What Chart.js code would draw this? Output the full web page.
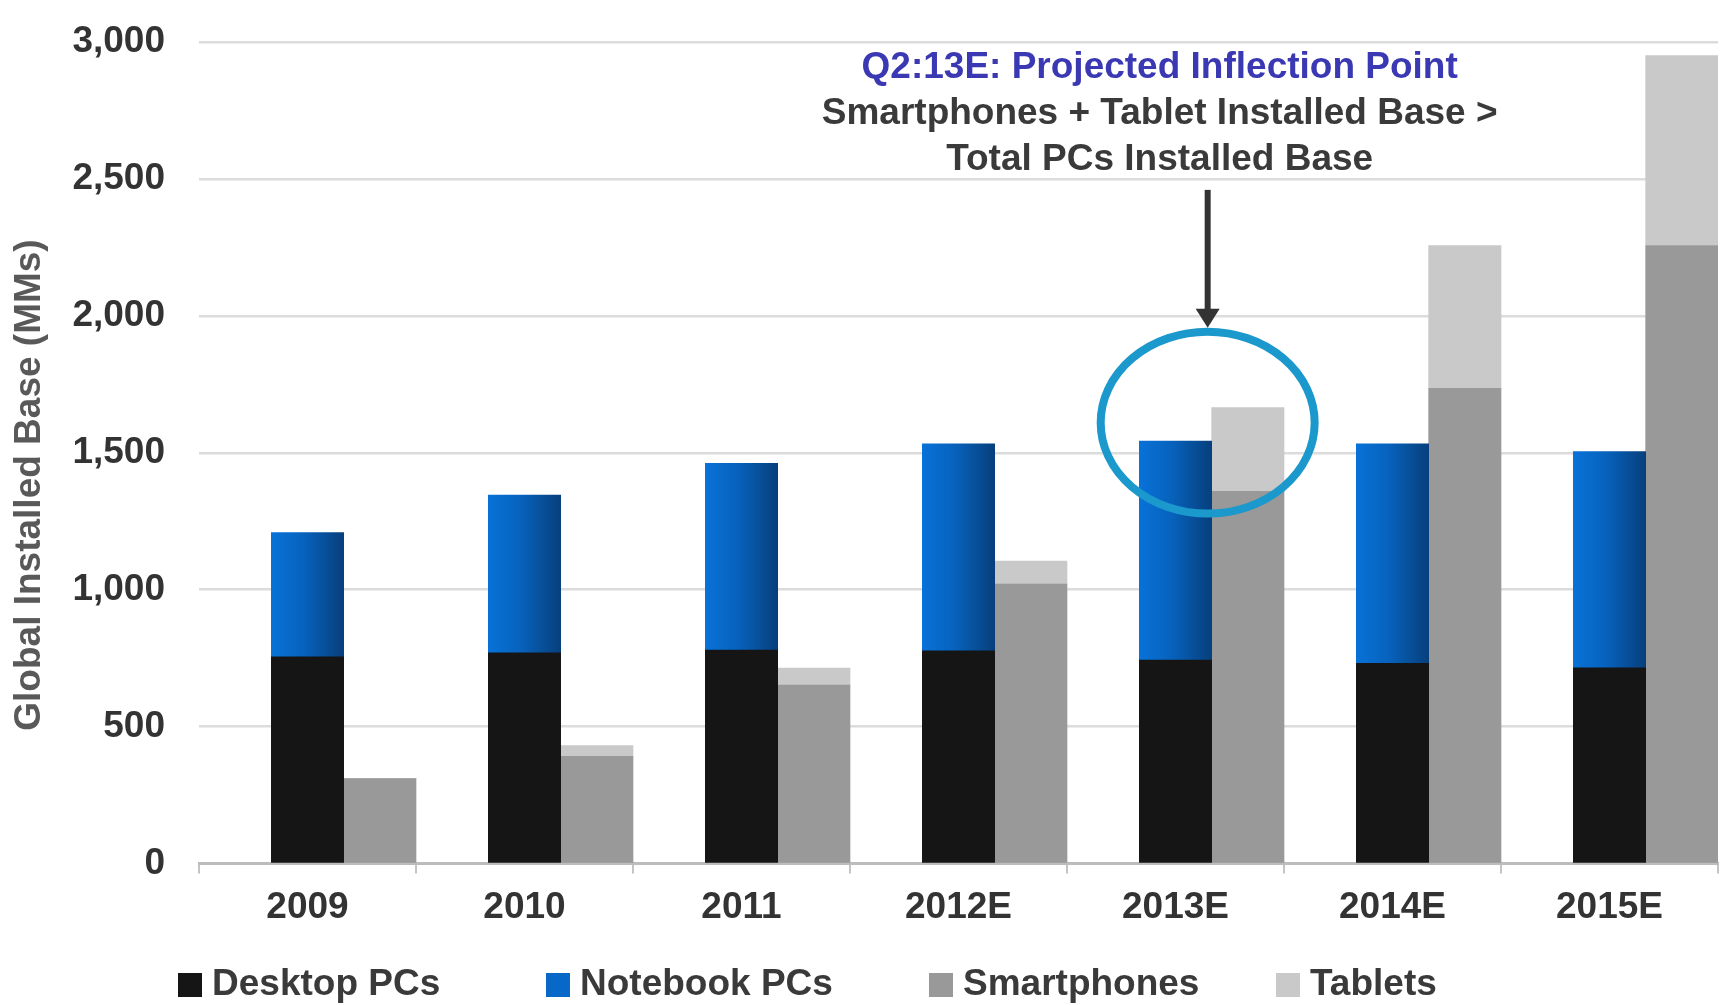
<!DOCTYPE html>
<html>
<head>
<meta charset="utf-8">
<title>Global Installed Base</title>
<script src="https://cdn.jsdelivr.net/npm/chart.js@4.4.0/dist/chart.umd.min.js"></script>
<style>
	html, body { margin: 0; padding: 0; background: #fff; }
	#chart-wrap { width: 1730px; height: 1005px; }
</style>
</head>
<body>
<div id="chart-wrap"><canvas id="installed-base-chart" width="1730" height="1005"></canvas></div>
<script>
// Values (millions of units)
const years = ['2009', '2010', '2011', '2012E', '2013E', '2014E', '2015E'];
const desktopPCs = [755, 770, 780, 777, 743, 731, 715];
const notebookPCs = [454, 576, 682, 756, 800, 802, 789];
const smartphones = [310, 392, 652, 1021, 1359, 1735, 2257];
const tablets = [0, 39, 62, 84, 306, 522, 693];
const yTicks = [0, 500, 1000, 1500, 2000, 2500, 3000];

const yAxisTitle = 'Global Installed Base (MMs)';
const calloutLines = [
	'Q2:13E: Projected Inflection Point',
	'Smartphones + Tablet Installed Base >',
	'Total PCs Installed Base'
];
const calloutYear = '2013E';

const FONT = '"Liberation Sans", Arial, sans-serif';
Chart.defaults.font.family = FONT;
Chart.defaults.font.size = 37;
Chart.defaults.font.weight = 'bold';
Chart.defaults.color = '#333333';

// Horizontal shading on the notebook bars
const gradientPlugin = {
	id: 'barGradient',
	beforeDatasetDraw(chart, args) {
		const ds = chart.data.datasets[args.index];
		if (!ds.gradientStops) return;
		const ctx = chart.ctx;
		args.meta.data.forEach(bar => {
			const left = bar.x - bar.width / 2;
			const g = ctx.createLinearGradient(left, 0, left + bar.width, 0);
			ds.gradientStops.forEach(([at, color]) => g.addColorStop(at, color));
			bar.options = Object.assign({}, bar.options, { backgroundColor: g });
		});
	}
};

// Circle + arrow + text pointing at the 2013E crossover
const calloutPlugin = {
	id: 'callout',
	afterDatasetsDraw(chart) {
		const { ctx, scales: { x, y } } = chart;
		const i = years.indexOf(calloutYear);
		const nb = chart.getDatasetMeta(2).data[i];
		const catWidth = x.getPixelForValue(1) - x.getPixelForValue(0);
		const cx = nb.x + nb.width / 2 - 4;
		const cy = y.getPixelForValue(1610);
		const rx = catWidth * 0.493;
		const ry = y.getPixelForValue(1610 - 332) - cy;

		ctx.save();
		ctx.lineWidth = 8;
		ctx.strokeStyle = '#1b98cc';
		ctx.beginPath();
		ctx.ellipse(cx, cy, rx, ry, 0, 0, Math.PI * 2);
		ctx.stroke();

		// arrow down onto the circle
		const tip = cy - ry - 4;
		const start = y.getPixelForValue(2460);
		ctx.strokeStyle = '#333333';
		ctx.fillStyle = '#333333';
		ctx.lineWidth = 6;
		ctx.beginPath();
		ctx.moveTo(cx, start);
		ctx.lineTo(cx, tip - 16);
		ctx.stroke();
		ctx.beginPath();
		ctx.moveTo(cx - 12, tip - 19);
		ctx.lineTo(cx + 12, tip - 19);
		ctx.lineTo(cx, tip);
		ctx.closePath();
		ctx.fill();

		// text above
		ctx.textAlign = 'center';
		ctx.textBaseline = 'middle';
		ctx.font = 'bold 37px ' + FONT;
		calloutLines.forEach((line, k) => {
			ctx.fillStyle = k === 0 ? '#3b38b3' : '#3a3a3a';
			ctx.fillText(line, cx - 48, chart.chartArea.top + 26 + k * 46);
		});
		ctx.restore();
	}
};

// Legend row and rotated axis title
const legendX = [178, 546, 929, 1276];
const legendY = 985;
const extrasPlugin = {
	id: 'extras',
	afterDraw(chart) {
		const ctx = chart.ctx;
		ctx.save();
		ctx.font = 'bold 37px ' + FONT;
		ctx.textBaseline = 'middle';
		ctx.textAlign = 'left';
		const items = chart.data.datasets.filter(ds => ds.label);
		items.forEach((ds, k) => {
			ctx.fillStyle = ds.legendColor || ds.backgroundColor;
			ctx.fillRect(legendX[k], legendY - 12, 24, 24);
			ctx.fillStyle = '#3a3a3a';
			ctx.fillText(ds.label, legendX[k] + 34, legendY);
		});

		ctx.translate(30, 485);
		ctx.rotate(-Math.PI / 2);
		ctx.textAlign = 'center';
		ctx.fillStyle = '#595959';
		ctx.fillText(yAxisTitle, 0, 0);
		ctx.restore();
	}
};

function createInstalledBaseChart(ctx) {
	return new Chart(ctx, {
		type: 'bar',
		data: {
			labels: years,
			datasets: [
				{
					// empty stack that leaves the gap on the left of each pair
					label: '',
					data: years.map(() => 0),
					backgroundColor: 'rgba(0,0,0,0)',
					stack: 'gap'
				},
				{
					label: 'Desktop PCs',
					data: desktopPCs,
					backgroundColor: '#151515',
					stack: 'pc'
				},
				{
					label: 'Notebook PCs',
					data: notebookPCs,
					backgroundColor: '#0766c4',
					legendColor: '#0868c8',
					gradientStops: [[0, '#0872d8'], [0.45, '#0762bc'], [1, '#073f7c']],
					stack: 'pc'
				},
				{
					label: 'Smartphones',
					data: smartphones,
					backgroundColor: '#999999',
					stack: 'mobile'
				},
				{
					label: 'Tablets',
					data: tablets,
					backgroundColor: '#c9c9c9',
					stack: 'mobile'
				}
			]
		},
		options: {
			responsive: false,
			animation: false,
			categoryPercentage: 1.0,
			barPercentage: 1.0,
			layout: {
				padding: { top: 42, right: 12, bottom: 63, left: 0 }
			},
			scales: {
				x: {
					stacked: true,
					grid: {
						drawOnChartArea: false,
						drawTicks: true,
						tickLength: 10,
						color: '#c4c4c4',
						lineWidth: 2
					},
					border: { color: '#bcbcbc', width: 3 },
					ticks: { color: '#333333', padding: 12 }
				},
				y: {
					stacked: true,
					min: 0,
					max: 3000,
					afterBuildTicks: scale => {
						scale.ticks = yTicks.map(value => ({ value }));
					},
					afterFit: scale => {
						scale.width = 199;
					},
					// invisible tick marks keep the labels off the plot without
					// adding tick padding above the top gridline
					grid: {
						color: '#dcdcdc',
						lineWidth: 2.5,
						drawTicks: true,
						tickLength: 34,
						tickColor: 'rgba(0,0,0,0)'
					},
					border: { display: false },
					ticks: {
						color: '#333333',
						padding: 0,
						callback: v => v.toLocaleString('en-US')
					}
				}
			},
			plugins: {
				legend: { display: false },
				tooltip: { enabled: false }
			}
		},
		plugins: [gradientPlugin, calloutPlugin, extrasPlugin]
	});
}

window.onload = function () {
	const ctx = document.getElementById('installed-base-chart').getContext('2d');
	createInstalledBaseChart(ctx);
};
</script>
</body>
</html>
